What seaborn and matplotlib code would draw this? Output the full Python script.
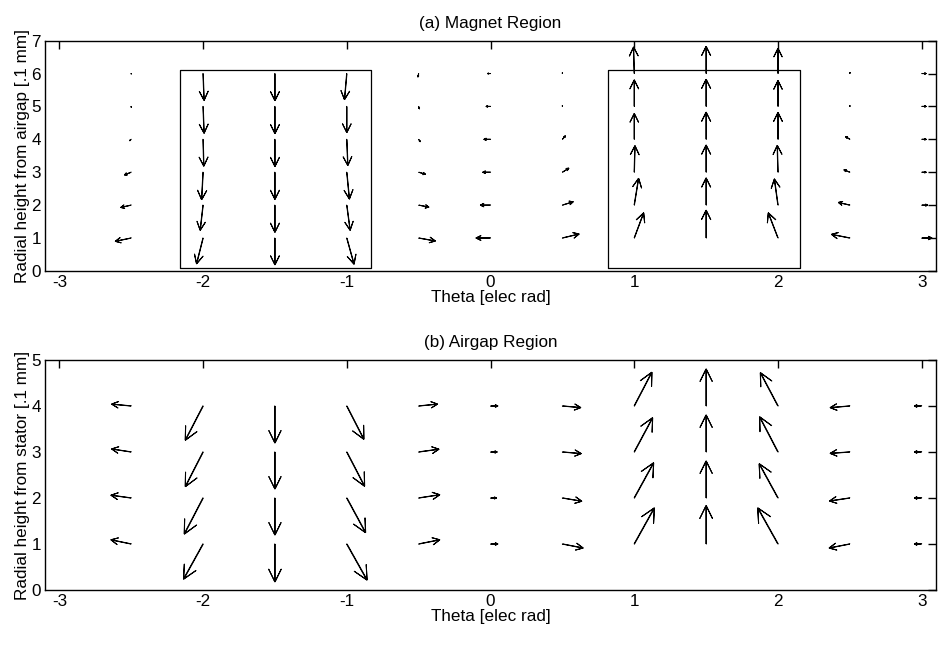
import numpy as np
import matplotlib
matplotlib.use("Agg")
import matplotlib.pyplot as plt
import seaborn as sns

# ---------------- data ----------------
theta = [-2.5, -2.0, -1.5, -1.0, -0.5, 0.0, 0.5, 1.0, 1.5, 2.0, 2.5, 3.0]

# (a) magnet region, rows = heights 1..6
magnet_height = [1, 2, 3, 4, 5, 6]
magnet_u = [
    [-0.110, -0.045, 0.0, 0.050, 0.115, -0.100, 0.115, 0.065, 0.0, -0.067, -0.127, 0.07],
    [-0.072, -0.020, 0.0, 0.023, 0.070, -0.070, 0.074, 0.030, 0.0, -0.025, -0.079, 0.04],
    [-0.046, -0.010, 0.0, 0.018, 0.046, -0.053, 0.044, 0.005, 0.0, -0.005, -0.040, 0.03],
    [-0.010, 0.005, 0.0, 0.007, 0.010, -0.045, 0.020, 0.000, 0.0, 0.000, -0.028, 0.03],
    [0.000, 0.007, 0.0, 0.000, 0.005, -0.030, 0.000, 0.000, 0.0, 0.000, 0.000, 0.03],
    [0.000, 0.007, 0.0, -0.016, -0.005, -0.020, 0.000, -0.005, 0.0, 0.000, 0.000, 0.03],
]
magnet_v = [
    [-0.10, -0.78, -0.81, -0.79, -0.09, 0.0, 0.12, 0.76, 0.84, 0.76, 0.11, 0.0],
    [-0.07, -0.76, -0.82, -0.76, -0.06, 0.0, 0.10, 0.81, 0.82, 0.79, 0.08, 0.0],
    [-0.08, -0.83, -0.82, -0.81, -0.06, 0.0, 0.12, 0.80, 0.82, 0.81, 0.07, 0.0],
    [-0.04, -0.81, -0.82, -0.79, -0.07, 0.0, 0.10, 0.78, 0.82, 0.81, 0.08, 0.0],
    [-0.02, -0.81, -0.82, -0.79, -0.07, 0.0, 0.02, 0.80, 0.82, 0.78, 0.02, 0.0],
    [-0.01, -0.81, -0.82, -0.79, -0.10, 0.0, 0.02, 0.80, 0.82, 0.76, 0.03, 0.0],
]
# magnet outlines (theta edges) and radial extent
magnet_edges = [(-2.16, -0.83), (0.82, 2.155)]
magnet_bottom = 0.1
magnet_top = 6.1

# (b) airgap region, rows = heights 1..4
airgap_height = [1, 2, 3, 4]
airgap_u = [
    [-0.140, -0.135, 0.0, 0.140, 0.146, 0.050, 0.143, 0.139, 0.0, -0.140, -0.143, -0.05],
    [-0.140, -0.130, 0.0, 0.130, 0.146, 0.040, 0.134, 0.134, 0.0, -0.130, -0.140, -0.05],
    [-0.135, -0.123, 0.0, 0.123, 0.140, 0.045, 0.130, 0.127, 0.0, -0.127, -0.136, -0.05],
    [-0.135, -0.123, 0.0, 0.118, 0.130, 0.050, 0.127, 0.122, 0.0, -0.122, -0.136, -0.05],
]
airgap_v = [
    [0.090, -0.76, -0.82, -0.78, 0.09, 0.0, -0.087, 0.78, 0.83, 0.78, -0.087, 0.0],
    [0.060, -0.78, -0.80, -0.75, 0.07, 0.0, -0.070, 0.76, 0.80, 0.74, -0.065, 0.0],
    [0.065, -0.75, -0.80, -0.74, 0.06, 0.0, -0.035, 0.74, 0.80, 0.76, -0.030, 0.0],
    [0.040, -0.74, -0.80, -0.72, 0.04, 0.0, -0.035, 0.73, 0.80, 0.72, -0.036, 0.0],
]

xticks = [-3, -2, -1, 0, 1, 2, 3]
titles = ["(a) Magnet Region", "(b) Airgap Region"]
ylabels = ["Radial height from airgap [.1 mm]", "Radial height from stator [.1 mm]"]
xlabel = "Theta [elec rad]"

# ---------------- style ----------------
sns.set_theme(style="white")
plt.rcParams["font.family"] = ["Liberation Sans", "DejaVu Sans"]
plt.rcParams["axes.unicode_minus"] = False
plt.rcParams["axes.edgecolor"] = "black"
plt.rcParams["axes.linewidth"] = 1.0
plt.rcParams["text.color"] = "black"
plt.rcParams["axes.labelcolor"] = "black"
plt.rcParams["xtick.color"] = "black"
plt.rcParams["ytick.color"] = "black"

FS = 12.3
fig = plt.figure(figsize=(9.39, 6.45), dpi=100)
ax1 = fig.add_axes([0.0479, 0.580, 0.949, 0.357])
ax2 = fig.add_axes([0.0479, 0.0853, 0.949, 0.3566])


def draw(ax, heights, U, V, ymax, title, ylabel):
    X, Y = np.meshgrid(theta, heights)
    ax.quiver(X, Y, np.array(U), np.array(V), angles="xy", scale_units="xy", scale=1,
              units="dots", width=0.8, headlength=30, headwidth=30, headaxislength=0,
              minshaft=3.0, minlength=0, facecolor="none", edgecolor="black",
              linewidth=0.75, pivot="tail")
    ax.set_xlim(-3.1, 3.1)
    ax.set_ylim(0, ymax)
    ax.set_xticks(xticks)
    ax.set_yticks(range(0, ymax + 1))
    ax.tick_params(direction="in", length=6, width=1.0, top=True, right=True,
                   labelsize=FS, pad=3)
    ax.set_title(title, fontsize=FS, pad=9)
    ax.set_xlabel(xlabel, fontsize=FS, labelpad=0)
    ax.set_ylabel(ylabel, fontsize=FS, labelpad=1)
    for s in ax.spines.values():
        s.set_visible(True)
        s.set_color("black")


draw(ax1, magnet_height, magnet_u, magnet_v, 7, titles[0], ylabels[0])
draw(ax2, airgap_height, airgap_u, airgap_v, 5, titles[1], ylabels[1])

for left, right in magnet_edges:
    ax1.plot([left, right, right, left, left],
             [magnet_bottom, magnet_bottom, magnet_top, magnet_top, magnet_bottom],
             color="black", linewidth=0.9)

fig.savefig("out.png", dpi=100, facecolor="white")
